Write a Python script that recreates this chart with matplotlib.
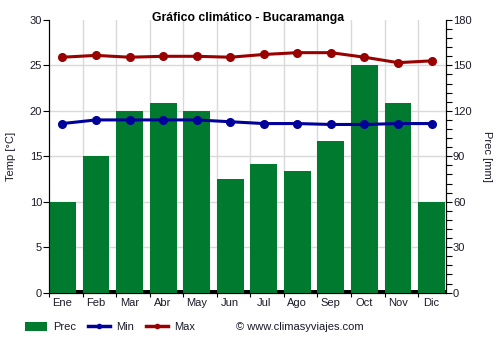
import matplotlib
matplotlib.use("Agg")
import matplotlib.pyplot as plt
from matplotlib.patches import Patch
from matplotlib.lines import Line2D
import numpy as np

plt.rcParams['font.family'] = ['Liberation Sans', 'DejaVu Sans']

months = ["Ene", "Feb", "Mar", "Abr", "May", "Jun", "Jul", "Ago", "Sep", "Oct", "Nov", "Dic"]
prec = [60, 90, 120, 125, 120, 75, 85, 80, 100, 150, 125, 60]
tmin = [18.6, 19.0, 19.0, 19.0, 19.0, 18.8, 18.6, 18.6, 18.5, 18.5, 18.6, 18.6]
tmax = [25.9, 26.1, 25.9, 26.0, 26.0, 25.9, 26.2, 26.4, 26.4, 25.9, 25.3, 25.5]

green = "#007a2f"
blue = "#00009a"
red = "#990000"
grid_c = "#d9d9d9"
txt = "#1a1a2a"

fig = plt.figure(figsize=(5, 3.5), dpi=100)
ax_p = fig.add_axes([0.098, 0.164, 0.794, 0.779])
ax_t = ax_p.twinx()

x = np.arange(len(months))

# precipitation bars (right axis)
ax_p.bar(x, prec, width=0.8, color=green, zorder=3)
ax_p.axhline(0, color="black", lw=5, zorder=2)
ax_p.set_ylim(0, 180)
ax_p.set_xlim(-0.4, 11.43)
ax_p.yaxis.tick_right()
ax_p.yaxis.set_label_position("right")
ax_p.set_yticks(np.arange(0, 181, 30))
ax_p.set_yticks(np.arange(0, 181, 6), minor=True)
ax_p.tick_params(axis="y", which="both", direction="out", length=4, width=0.8,
                 labelsize=8, labelcolor=txt, pad=1)
ax_p.set_ylabel("Prec [mm]", fontsize=8, color=txt, rotation=270, labelpad=15)

# month labels at bar centres, tick marks at bar edges
ax_p.set_xticks(x)
ax_p.set_xticklabels(months)
ax_p.set_xticks(x - 0.4, minor=True)
ax_p.tick_params(axis="x", which="major", length=0, labelsize=8, labelcolor=txt, pad=4)
ax_p.tick_params(axis="x", which="minor", length=3, width=0.8, direction="out")

# grid behind the bars
for yv in np.arange(30, 180, 30):
    ax_p.axhline(yv, color=grid_c, lw=1, zorder=1)
for xv in x[1:] - 0.4:
    ax_p.axvline(xv, color=grid_c, lw=1, zorder=1)

for s in ["top"]:
    ax_p.spines[s].set_visible(False)
    ax_t.spines[s].set_visible(False)

# temperature lines (left axis)
ax_t.yaxis.tick_left()
ax_t.yaxis.set_label_position("left")
ax_t.plot(x, tmax, color=red, lw=2.2, marker="o", ms=5.5, zorder=5)
ax_t.plot(x, tmin, color=blue, lw=2.2, marker="o", ms=5.5, zorder=5)
ax_t.set_ylim(0, 30)
ax_t.set_yticks(np.arange(0, 31, 5))
ax_t.tick_params(axis="y", direction="out", length=4, width=0.8, labelsize=8,
                 labelcolor=txt, pad=1)
ax_t.set_ylabel("Temp [°C]", fontsize=8, color=txt, labelpad=10)

fig.text(0.497, 0.95, "Gráfico climático - Bucaramanga", ha="center", va="center",
         fontsize=8.8, fontweight="bold", color="black")

handles = [
    Patch(facecolor=green, edgecolor="none"),
    Line2D([0], [0], color=blue, lw=2.5, marker="o", ms=3),
    Line2D([0], [0], color=red, lw=2.5, marker="o", ms=3),
]
fig.legend(handles, ["Prec", "Min", "Max"], loc="center left",
           bbox_to_anchor=(0.03, 0.065), ncol=3, frameon=False, fontsize=8,
           handlelength=2.0, handleheight=0.9, handletextpad=0.5,
           columnspacing=1.1, labelcolor=txt)
fig.text(0.472, 0.065, "© www.climasyviajes.com", ha="left", va="center",
         fontsize=8, color=txt)

fig.savefig("out.png", dpi=100)
